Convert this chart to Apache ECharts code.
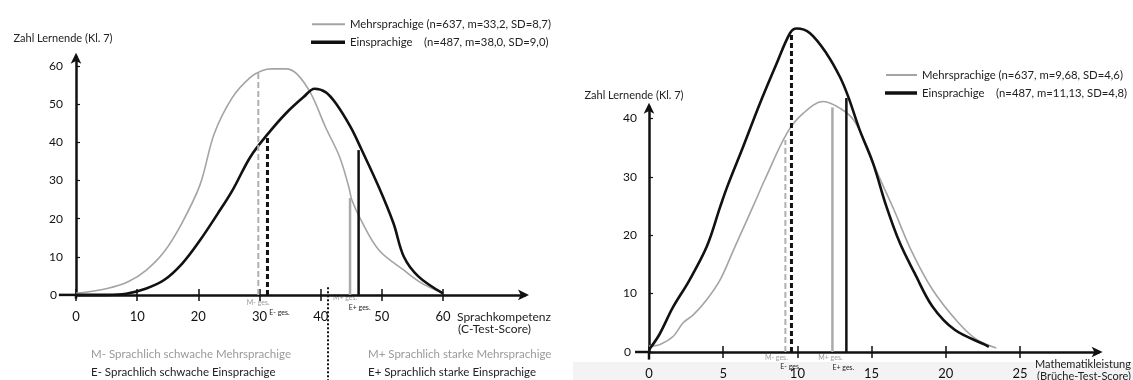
<!DOCTYPE html>
<html><head><meta charset="utf-8">
<script src="https://cdn.jsdelivr.net/npm/echarts@6/dist/echarts.min.js"></script>
<style>html,body{margin:0;padding:0;background:#fff}#c{width:1133px;height:380px}</style>
</head><body><div id="c"></div>
<script>
// ---------- data ----------
const leftNames = ['Mehrsprachige (n=637, m=33,2, SD=8,7)', 'Einsprachige    (n=487, m=38,0, SD=9,0)'];
const rightNames = ['Mehrsprachige (n=637, m=9,68, SD=4,6)', 'Einsprachige    (n=487, m=11,13, SD=4,8)'];
const leftMulti = [[0,0.4],[5.1,1.7],[8.6,3.5],[11.5,6.5],[14.4,11.3],[17.3,18.8],[20.3,29],[22.6,42.3],[25.6,51.9],[28.5,57.1],[30.5,58.9],[32,59.3],[34.3,59.3],[36.1,58],[38.4,52.8],[40.8,44],[43.1,36.2],[44.6,28.3],[45.1,24.9],[46.6,19.6],[49.5,11.8],[53.6,6.5],[56.5,3.1],[60,0.4]];
const leftMono = [[0,0],[5,0],[8.2,0.3],[11.5,1.7],[14.4,3.9],[17.4,8.3],[20.3,14.4],[23.2,21.4],[25.6,27.5],[28.5,36.2],[31.4,42.3],[34.3,47.6],[37.2,51.9],[39,54.1],[40.8,53.2],[42.5,50.2],[44.9,44],[46.6,38.4],[49.5,28.3],[51.9,18.8],[53.6,10],[56,4.8],[60,0.4]];
const rightMulti = [[0,1.0],[0.74,1.3],[1.64,2.7],[2.3,5.0],[3.0,6.4],[3.9,9.0],[4.8,12.4],[5.7,17.5],[6.6,22.6],[7.3,26.6],[7.8,29.5],[9.3,37.5],[10.4,40.9],[11.75,42.9],[12.9,41.7],[13.8,39.7],[14.7,35.2],[15.3,31.2],[16.5,24.4],[17.65,17.5],[19.1,10.7],[20.85,5.0],[22.1,2.1],[23.4,0.7]];
const rightMono = [[0,0.4],[0.7,3.0],[1.6,7.6],[2.7,12.2],[3.9,18.1],[4.8,24.9],[5.3,28.5],[6.35,35.2],[7.48,42.6],[8.6,49.4],[9.5,54.6],[9.95,55.4],[10.85,54.6],[11.97,51.1],[12.87,47.1],[13.43,43.7],[14.2,38.0],[15.1,32.3],[16.0,24.9],[16.9,18.7],[17.9,13.5],[19.1,7.8],[20.6,3.8],[22.6,1.3],[22.9,0.9]];
const meanLabels = ['M- ges.', 'E- ges.', 'M+ ges.', 'E+ ges.'];
const leftMeanX = [29.8, 31.3, 44.8, 46.2];
const leftMeanTop = [58.5, 41.4, 25.4, 38];
const rightMeanX = [9.19, 9.6, 12.36, 13.3];
const rightMeanTop = [36.3, 54.6, 41.9, 43.5];
const leftDividerX = 41.2;
const leftTicks = [0, 10, 20, 30, 40, 50, 60];
const leftYTicks = [0, 10, 20, 30, 40, 50, 60];
const rightTicks = [0, 5, 10, 15, 20, 25];
const rightYTicks = [0, 10, 20, 30, 40];
const leftXExtent = [-2.8, 73.4];
const leftYExtent = [-1, 62.5];
const rightXExtent = [-0.94, 30.3];
const rightYExtent = [-1.3, 42];
const yName = 'Zahl Lernende (Kl. 7)';
const leftXName = ['Sprachkompetenz', '(C-Test-Score)'];
const rightXName = ['Mathematikleistung', '(Brüche-Test-Score)'];
const groupTexts = ['M- Sprachlich schwache Mehrsprachige', 'E- Sprachlich schwache Einsprachige', 'M+ Sprachlich starke Mehrsprachige', 'E+ Sprachlich starke Einsprachige'];

// ---------- styles ----------
const FONT = 'Lato, "Open Sans", sans-serif';
const GRAY = '#a4a4a4';
const BLACK = '#111';
const meanStyles = [
  {color: '#b0b0b0', width: 2, type: [6, 3]},
  {color: BLACK, width: 3, type: [5, 3]},
  {color: '#aaaaaa', width: 2.5, type: 'solid'},
  {color: BLACK, width: 2.5, type: 'solid'}
];

function xAxisCfg(gi, max, ticks, margin) {
  return {
    type: 'value', gridIndex: gi, min: 0, max: max, position: 'bottom',
    splitLine: {show: false},
    axisLine: {onZero: true, symbol: ['none', 'arrow'], symbolSize: [8, 11], symbolOffset: [0, 4], lineStyle: {color: BLACK, width: 2.5}},
    axisTick: {show: true, customValues: ticks, length: 6, lineStyle: {color: BLACK, width: 1.5}},
    axisLabel: {customValues: ticks, margin: margin, fontSize: 13, color: BLACK, fontFamily: FONT}
  };
}
// companion axis that only draws the upper half of each tick (ticks cross the axis in the reference)
function xTickCfg(gi, max, ticks) {
  return {
    type: 'value', gridIndex: gi, min: 0, max: max, position: 'bottom',
    splitLine: {show: false},
    axisLine: {show: false, onZero: true},
    axisTick: {show: true, inside: true, customValues: ticks, length: 6, lineStyle: {color: BLACK, width: 1.5}},
    axisLabel: {show: false}
  };
}
function yAxisCfg(gi, max, ticks, margin) {
  return {
    type: 'value', gridIndex: gi, min: 0, max: max, position: 'left',
    splitLine: {show: false},
    axisLine: {onZero: true, symbol: ['none', 'arrow'], symbolSize: [8, 11], symbolOffset: [0, 4], lineStyle: {color: BLACK, width: 2.5}},
    axisTick: {show: true, customValues: ticks, length: 4, inside: true, lineStyle: {color: BLACK, width: 1.2}},
    axisLabel: {customValues: ticks, margin: margin, fontSize: 12, color: BLACK, fontFamily: FONT,
      formatter: v => (v === 0 ? '{z|0}' : String(v)),
      rich: {z: {padding: [0, 6, 0, 0], fontSize: 12, color: BLACK, fontFamily: FONT}}}
  };
}

function meanSeries(gi, xs, tops, pre) {
  return xs.map((x, i) => ({
    name: pre + meanLabels[i], type: 'line', xAxisIndex: gi, yAxisIndex: gi,
    data: [[x, 0], [x, tops[i]]], symbol: 'none', clip: false, z: 3,
    lineStyle: meanStyles[i], silent: true
  }));
}
function legendCfg(name, left, centerY, w, h) {
  return {data: [name], left: left, top: centerY - 7, icon: 'rect', itemWidth: w, itemHeight: h,
    selectedMode: false, textStyle: {fontSize: 11.3, color: '#222', fontFamily: FONT, lineHeight: 14}};
}

const chart = echarts.init(document.getElementById('c'));
const L = {x0: 76, sx: 6.117, y0: 294.9, sy: 3.811};
const R = {x0: 649, sx: 14.84, y0: 352.5, sy: 5.85};
chart.setOption({
  animation: false,
  backgroundColor: '#fff',
  textStyle: {fontFamily: FONT},
  grid: [
    {left: L.x0, top: L.y0 - leftYExtent[1] * L.sy, width: leftXExtent[1] * L.sx, height: leftYExtent[1] * L.sy},
    {left: R.x0, top: R.y0 - rightYExtent[1] * R.sy, width: rightXExtent[1] * R.sx, height: rightYExtent[1] * R.sy}
  ],
  xAxis: [xAxisCfg(0, leftXExtent[1], leftTicks, 15), xAxisCfg(1, rightXExtent[1], rightTicks, 15),
          xTickCfg(0, leftXExtent[1], leftTicks), xTickCfg(1, rightXExtent[1], rightTicks)],
  yAxis: [yAxisCfg(0, leftYExtent[1], leftYTicks, 13), yAxisCfg(1, rightYExtent[1], rightYTicks, 12)],
  legend: [
    legendCfg(leftNames[0], 307, 19.3, 33, 2),
    legendCfg(leftNames[1], 306, 37.3, 34, 3.5),
    legendCfg(rightNames[0], 881, 70, 31, 2),
    legendCfg(rightNames[1], 880, 88, 32, 3.5)
  ],
  series: [
    {name: leftNames[0], type: 'line', xAxisIndex: 0, yAxisIndex: 0, data: leftMulti, smooth: 0.35, symbol: 'none', clip: false, lineStyle: {color: GRAY, width: 1.6}, itemStyle: {color: GRAY}},
    {name: leftNames[1], type: 'line', xAxisIndex: 0, yAxisIndex: 0, data: leftMono, smooth: 0.35, symbol: 'none', clip: false, lineStyle: {color: BLACK, width: 2.6}, itemStyle: {color: BLACK}},
    {name: rightNames[0], type: 'line', xAxisIndex: 1, yAxisIndex: 1, data: rightMulti, smooth: 0.35, symbol: 'none', clip: false, lineStyle: {color: GRAY, width: 1.6}, itemStyle: {color: GRAY}},
    {name: rightNames[1], type: 'line', xAxisIndex: 1, yAxisIndex: 1, data: rightMono, smooth: 0.35, symbol: 'none', clip: false, lineStyle: {color: BLACK, width: 2.6}, itemStyle: {color: BLACK}}
  ].concat(meanSeries(0, leftMeanX, leftMeanTop, 'L '), meanSeries(1, rightMeanX, rightMeanTop, 'R '))
});

// ---------- annotations (positioned through the axes' own scales) ----------
const px = (gi, pt) => chart.convertToPixel({gridIndex: gi}, pt);
const g = [];
g.push({type: 'rect', shape: {x: 573, y: 362, width: 560, height: 18}, style: {fill: '#f3f3f3'}, z: -10, silent: true});
[[0, leftXExtent, leftYExtent], [1, rightXExtent, rightYExtent]].forEach(([gi, xe, ye]) => {
  const o = px(gi, [0, 0]);
  const xs = px(gi, [xe[0], 0]);
  const ys = px(gi, [0, ye[0]]);
  g.push({type: 'line', shape: {x1: xs[0], y1: o[1], x2: o[0], y2: o[1]}, style: {stroke: BLACK, lineWidth: 2.5}, silent: true});
  g.push({type: 'line', shape: {x1: o[0], y1: o[1], x2: o[0], y2: ys[1]}, style: {stroke: BLACK, lineWidth: 2.5}, silent: true});
});
const labelOffsets = [
  [[0, 8], [12, 18], [-5, 3], [1, 13]],
  [[-9, 5.5], [-1, 14.5], [-2, 5.5], [-3, 15.5]]
];
const labelColors = ['#9a9a9a', '#222', '#9a9a9a', '#222'];
[[leftMeanX, 0], [rightMeanX, 1]].forEach(([xs, gi]) => {
  xs.forEach((x, i) => {
    const p = px(gi, [x, 0]);
    const o = labelOffsets[gi][i];
    g.push({type: 'text', x: p[0] + o[0], y: p[1] + o[1], silent: true,
      style: {text: meanLabels[i], fontSize: 7, fill: labelColors[i], align: 'center', verticalAlign: 'middle', fontFamily: FONT}});
  });
});
const dTop = px(0, [leftDividerX, 2]);
g.push({type: 'line', shape: {x1: dTop[0], y1: dTop[1], x2: dTop[0], y2: 380}, style: {stroke: BLACK, lineWidth: 2, lineDash: [2, 2]}, silent: true});
const yTopL = px(0, [0, 0]);
const yTopR = px(1, [0, 0]);
g.push({type: 'text', x: yTopL[0] - 13, y: 38, style: {text: yName, fontSize: 11, fill: '#222', align: 'center', verticalAlign: 'middle', fontFamily: FONT}});
g.push({type: 'text', x: yTopR[0] - 15, y: 95, style: {text: yName, fontSize: 11, fill: '#222', align: 'center', verticalAlign: 'middle', fontFamily: FONT}});
g.push({type: 'text', x: 457, y: 317, style: {text: leftXName[0], fontSize: 12, fill: '#222', verticalAlign: 'middle', fontFamily: FONT}});
g.push({type: 'text', x: 458, y: 329, style: {text: leftXName[1], fontSize: 12, fill: '#222', verticalAlign: 'middle', fontFamily: FONT}});
g.push({type: 'text', x: 1035, y: 364, style: {text: rightXName[0], fontSize: 11, fill: '#222', verticalAlign: 'middle', fontFamily: FONT}});
g.push({type: 'text', x: 1037, y: 376, style: {text: rightXName[1], fontSize: 11, fill: '#222', verticalAlign: 'middle', fontFamily: FONT}});
g.push({type: 'text', x: 91, y: 354, style: {text: groupTexts[0], fontSize: 11.5, fill: '#9a9a9a', verticalAlign: 'middle', fontFamily: FONT}});
g.push({type: 'text', x: 91, y: 372, style: {text: groupTexts[1], fontSize: 11.5, fill: '#222', verticalAlign: 'middle', fontFamily: FONT}});
g.push({type: 'text', x: 368, y: 354, style: {text: groupTexts[2], fontSize: 11.5, fill: '#9a9a9a', verticalAlign: 'middle', fontFamily: FONT}});
g.push({type: 'text', x: 368, y: 372, style: {text: groupTexts[3], fontSize: 11.5, fill: '#222', verticalAlign: 'middle', fontFamily: FONT}});
chart.setOption({graphic: g});
</script></body></html>
